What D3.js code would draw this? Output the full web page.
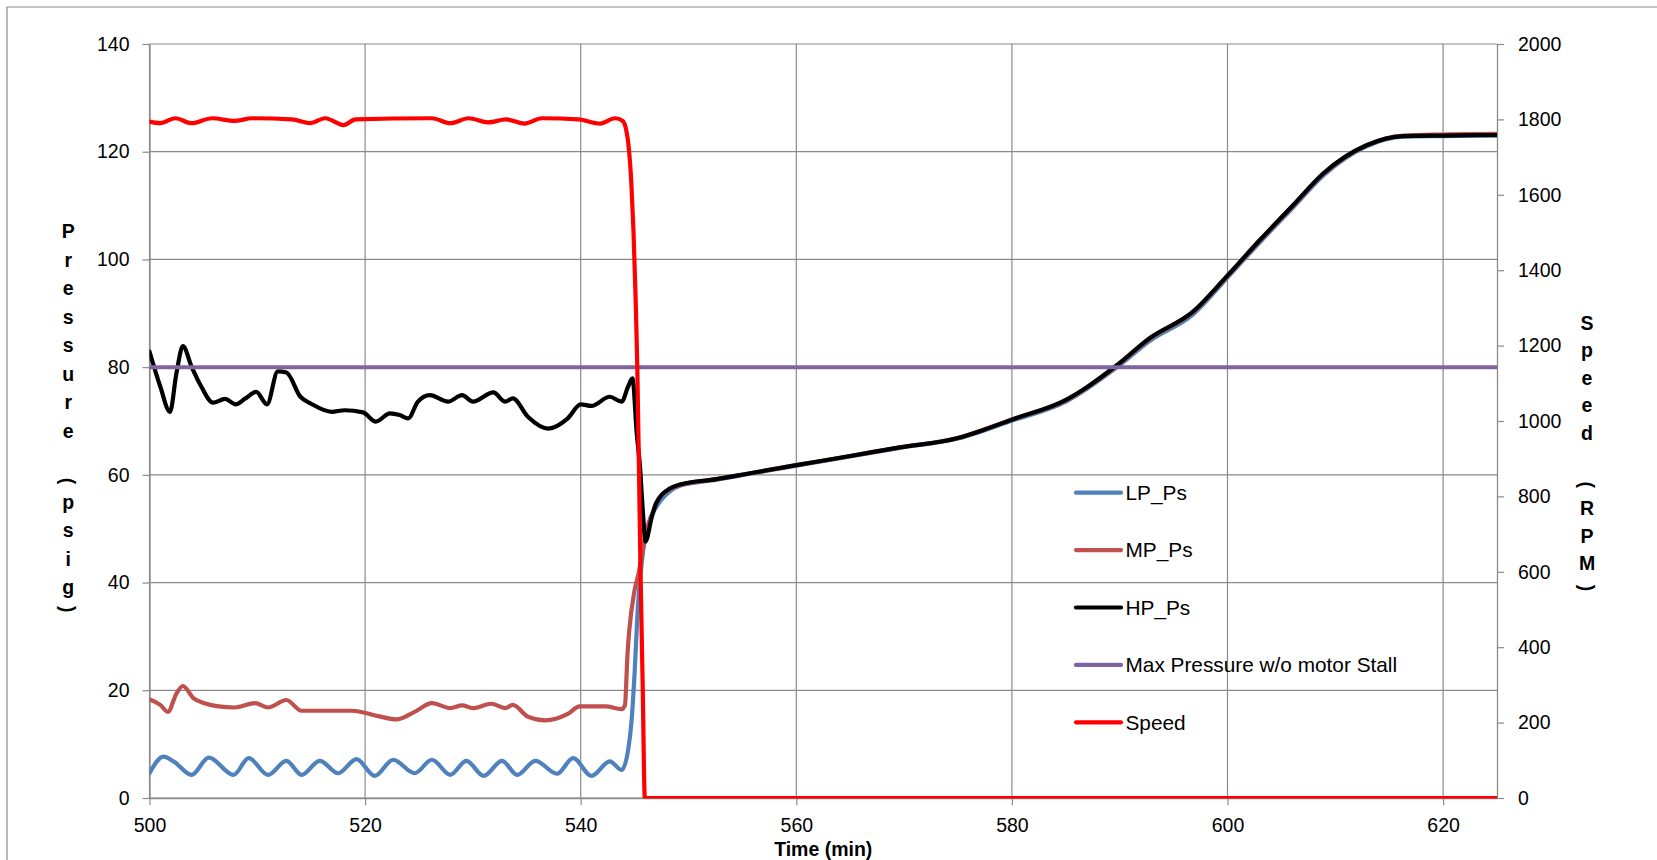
<!DOCTYPE html>
<html><head><meta charset="utf-8">
<script src="https://cdn.jsdelivr.net/npm/d3@7"></script>
<style>
html,body{margin:0;padding:0;background:#fff;}
svg{display:block;}
text{font-family:'Liberation Sans',Arial,sans-serif;fill:#000;}
</style></head><body>
<svg id="chart" width="1657" height="860"></svg>
<script>
// ---------- data ----------
const xTicks = [500, 520, 540, 560, 580, 600, 620];
const yTicks = [0, 20, 40, 60, 80, 100, 120, 140];
const y2Ticks = [0, 200, 400, 600, 800, 1000, 1200, 1400, 1600, 1800, 2000];
const xTitle = "Time (min)";
const yTitle = "Pressure (psig)";
const y2Title = "Speed (RPM)";
const seriesNames = ["LP_Ps", "MP_Ps", "HP_Ps", "Max Pressure w/o motor Stall", "Speed"];

// [time (min), pressure (psig)]
const lpPs = [[500.0,4.6],[501.3,7.7],[502.3,6.7],[503.9,4.3],[505.5,7.5],[507.8,4.3],[509.2,7.4],[511.0,4.3],[512.7,6.9],[514.1,4.3],[515.8,6.9],[517.5,4.6],[519.2,7.2],[520.9,4.1],[522.6,7.1],[524.6,4.6],[526.2,7.1],[527.9,4.3],[529.4,6.9],[531.0,4.1],[532.7,6.9],[534.1,4.3],[535.8,6.9],[537.8,4.5],[539.3,7.4],[541.0,4.1],[542.7,6.8],[543.8,5.2],[544.4,8.9],[544.7,13.9],[545.0,23.2],[545.3,35.5],[545.8,46.0],[546.3,51.0],[547.0,54.0],[548.3,57.0],[549.2,58.0],[552.6,59.1],[555.7,60.2],[560.0,61.7],[565.0,63.4],[569.6,65.0],[574.9,66.7],[579.9,70.0],[585.1,73.7],[589.7,79.9],[592.8,84.9],[596.8,89.8],[599.9,96.4],[603.0,103.2],[606.1,109.7],[608.9,115.6],[612.9,121.0],[616.3,122.8],[620.0,122.9],[625.0,123.0]];

const mpPs = [[500.0,18.3],[501.0,17.3],[501.7,16.0],[502.5,19.4],[503.1,20.8],[504.1,18.5],[505.1,17.6],[506.4,17.0],[507.9,16.8],[509.8,17.6],[511.0,16.8],[512.7,18.2],[514.1,16.2],[516.0,16.2],[518.8,16.2],[521.2,15.2],[522.9,14.6],[524.6,16.0],[526.2,17.6],[527.9,16.7],[529.0,17.2],[530.0,16.7],[531.7,17.5],[533.0,16.7],[533.7,17.3],[535.1,15.1],[536.7,14.4],[538.8,15.6],[539.9,17.0],[542.3,17.0],[543.8,16.5],[544.1,17.2],[544.35,27.0],[544.5,31.0],[545.0,38.6],[545.4,42.0],[545.7,45.5],[546.0,48.8],[546.6,52.5],[547.0,54.8],[548.3,57.4],[549.2,58.1],[552.6,59.2],[555.7,60.3],[560.0,61.8],[565.0,63.5],[569.6,65.1],[574.9,66.8],[579.9,70.2],[585.1,73.9],[589.7,80.2],[592.8,85.3],[596.8,90.2],[599.9,96.7],[603.0,103.5],[606.1,110.0],[608.9,115.9],[612.9,121.2],[616.3,123.0],[620.0,123.2],[625.0,123.3]];

const hpPs = [[500.0,82.9],[501.0,76.4],[501.9,71.7],[502.5,78.9],[503.1,83.9],[503.9,80.1],[504.8,76.4],[505.9,73.4],[507.0,74.1],[508.0,73.1],[508.9,74.2],[509.9,75.4],[510.9,73.1],[511.9,79.2],[512.7,79.0],[514.0,74.5],[515.0,73.2],[516.9,71.7],[518.1,72.0],[519.8,71.6],[521.0,69.9],[522.3,71.4],[523.2,71.1],[524.0,70.5],[524.9,73.6],[526.0,74.8],[527.7,73.6],[529.0,74.8],[530.0,73.6],[531.9,75.3],[533.0,73.6],[533.7,74.2],[535.1,70.8],[537.0,68.6],[538.8,70.5],[540.0,73.1],[541.0,72.8],[542.7,74.5],[543.8,73.6],[544.4,76.4],[544.8,77.9],[545.2,67.7],[545.5,61.5],[545.8,52.2],[546.0,47.6],[546.6,52.2],[547.0,54.7],[548.3,57.5],[549.2,58.2],[552.6,59.2],[555.7,60.3],[560.0,61.8],[565.0,63.5],[569.6,65.1],[574.9,66.8],[577.3,68.3],[579.9,70.2],[585.1,74.0],[586.6,75.8],[589.7,80.3],[592.8,85.4],[596.8,90.3],[599.9,96.8],[603.0,103.6],[606.1,110.1],[608.9,116.0],[612.9,121.2],[616.3,122.9],[620.0,123.0],[625.0,123.1]];

const maxPressure = [[500, 80], [625, 80]];

// [time (min), speed (RPM)]
const speedRpm = [[500.0,1794],[501.0,1790],[502.4,1803],[503.9,1790],[505.8,1803],[507.9,1796],[509.5,1803],[513.2,1800],[514.9,1790],[516.3,1803],[518.0,1785],[519.1,1800],[526.2,1803],[527.9,1790],[529.6,1803],[531.4,1792],[533.1,1800],[534.8,1789],[536.4,1803],[539.8,1800],[541.8,1789],[543.2,1803],[543.9,1796],[544.2,1775],[544.4,1740],[544.7,1630],[544.9,1500],[545.1,1320],[545.25,1144],[545.4,880],[545.55,600],[545.75,300],[545.95,0],[625.0,0]];

// ---------- styles / layout ----------
const colors = ["#4F81BD", "#C0504D", "#000000", "#8064A2", "#FF0000"];
const W = 1657, H = 860;
const L = 149.5, R = 1497, T = 44, B = 798;
const gridColor = "#8a8a8a";
const tickFont = 19.5;

const svg = d3.select("#chart");

// outer chart border
svg.append("path").attr("d", `M7,${H} V7 H${W}`)
  .attr("fill", "none").attr("stroke", "#8c8c8c").attr("stroke-width", 1.2);

const x = d3.scaleLinear().domain([500, 625]).range([L, R]);
const y = d3.scaleLinear().domain([0, 140]).range([B, T]);
const y2 = d3.scaleLinear().domain([0, 2000]).range([B, T]);

// gridlines
const grid = svg.append("g");
grid.selectAll("line.h").data(yTicks).join("line")
  .attr("x1", L).attr("x2", R).attr("y1", d => y(d)).attr("y2", d => y(d))
  .attr("stroke", gridColor).attr("stroke-width", 1.2);
grid.selectAll("line.v").data(xTicks).join("line")
  .attr("y1", T).attr("y2", B).attr("x1", d => x(d)).attr("x2", d => x(d))
  .attr("stroke", gridColor).attr("stroke-width", 1.2);

function styleAxis(g) {
  g.select(".domain").attr("stroke", gridColor).attr("stroke-width", 1.3);
  g.selectAll(".tick line").attr("stroke", gridColor).attr("stroke-width", 1.2);
  g.selectAll(".tick text").attr("font-size", tickFont).attr("fill", "#000");
}

svg.append("g").attr("transform", `translate(0,${B})`)
  .call(d3.axisBottom(x).tickValues(xTicks).tickSize(7).tickSizeOuter(0).tickPadding(13).tickFormat(d3.format("d")))
  .call(styleAxis);
svg.append("g").attr("transform", `translate(${L},0)`)
  .call(d3.axisLeft(y).tickValues(yTicks).tickSize(7).tickSizeOuter(0).tickPadding(13).tickFormat(d3.format("d")))
  .call(styleAxis);
svg.append("g").attr("transform", `translate(${R},0)`)
  .call(d3.axisRight(y2).tickValues(y2Ticks).tickSize(7).tickSizeOuter(0).tickPadding(14).tickFormat(d3.format("d")))
  .call(styleAxis);
svg.selectAll(".domain").attr("fill", "none");
svg.selectAll("g[font-family]").attr("font-family", null);

// clip for series
svg.append("clipPath").attr("id", "plotClip").append("rect")
  .attr("x", L).attr("y", T - 4).attr("width", R - L).attr("height", B - T + 4.5);

const lineP = d3.line().x(d => x(d[0])).y(d => y(d[1])).curve(d3.curveMonotoneX);
const lineS = d3.line().x(d => x(d[0])).y(d => y2(d[1])).curve(d3.curveMonotoneX);

const series = [
  { data: lpPs, gen: lineP },
  { data: mpPs, gen: lineP },
  { data: hpPs, gen: lineP },
  { data: maxPressure, gen: lineP },
  { data: speedRpm, gen: lineS }
];
const sg = svg.append("g").attr("clip-path", "url(#plotClip)");
series.forEach((s, i) => {
  sg.append("path").attr("d", s.gen(s.data)).attr("fill", "none")
    .attr("stroke", colors[i]).attr("stroke-width", i === 3 ? 4 : 4.2)
    .attr("stroke-linejoin", "round").attr("stroke-linecap", "round");
});

// legend
const legX0 = 1076, legX1 = 1121, legTextX = 1125.5, legY0 = 492.7, legStep = 57.4;
const leg = svg.append("g");
seriesNames.forEach((name, i) => {
  const yy = legY0 + i * legStep;
  leg.append("line").attr("x1", legX0).attr("x2", legX1).attr("y1", yy).attr("y2", yy)
    .attr("stroke", colors[i]).attr("stroke-width", 4.2).attr("stroke-linecap", "round");
  leg.append("text").attr("x", legTextX).attr("y", yy).attr("dy", "0.35em")
    .attr("font-size", 20.8).text(name);
});

// stacked vertical axis titles
function stackTitle(str, cx, y0, adv, parenFactor) {
  const g = svg.append("g");
  let yy = y0, prev = adv;
  str.split("").forEach((c, i) => {
    const isParen = (c === "(" || c === ")");
    const size = isParen ? adv * parenFactor : adv;
    if (i > 0) yy += (prev + size) / 2;
    prev = size;
    if (c === " ") return;
    if (isParen) {
      g.append("text").attr("x", cx).attr("y", yy)
        .attr("text-anchor", "middle").attr("dominant-baseline", "central")
        .attr("font-weight", "bold").attr("font-size", 19.5)
        .attr("transform", `rotate(90,${cx},${yy})`).text(c);
    } else {
      g.append("text").attr("x", cx).attr("y", yy + 6.5)
        .attr("text-anchor", "middle").attr("font-weight", "bold")
        .attr("font-size", 19.5).text(c);
    }
  });
}
stackTitle(yTitle, 68.3, 231.7, 28.5, 0.5);
stackTitle(y2Title, 1587, 323.3, 27.5, 0.75);

// x axis title
svg.append("text").attr("x", (L + R) / 2).attr("y", 855.5)
  .attr("text-anchor", "middle").attr("font-weight", "bold").attr("font-size", 19.5)
  .text(xTitle);
</script>
</body></html>
